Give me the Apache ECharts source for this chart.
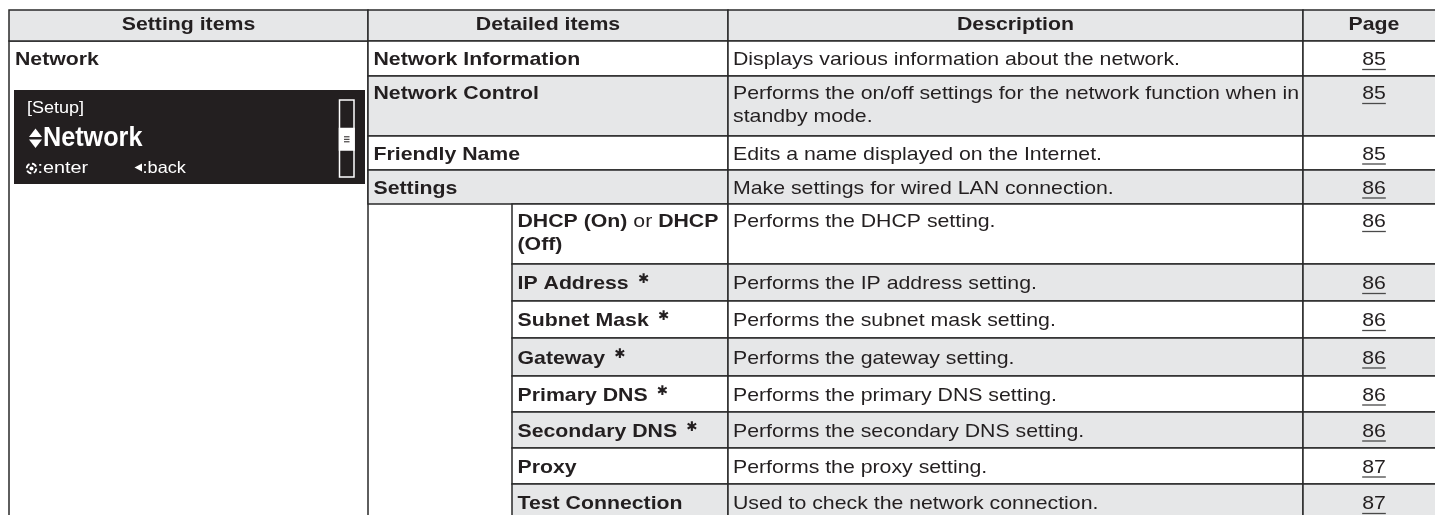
<!DOCTYPE html>
<html>
<head>
<meta charset="utf-8">
<script src="https://cdn.jsdelivr.net/npm/echarts@6/dist/echarts.min.js"></script>
<style>
html,body{margin:0;padding:0;background:#ffffff;}
#chart{width:1435px;height:515px;}
</style>
</head>
<body>
<div id="chart"></div>
<script>
// ---------------- data ----------------
const headers = ['Setting items', 'Detailed items', 'Description', 'Page'];
const sectionName = 'Network';
const detailItems = ['Network Information', 'Network Control', 'Friendly Name', 'Settings',
  'DHCP (On) or DHCP (Off)', 'IP Address', 'Subnet Mask', 'Gateway', 'Primary DNS',
  'Secondary DNS', 'Proxy', 'Test Connection'];
const itemLevels = [1, 1, 1, 1, 2, 2, 2, 2, 2, 2, 2, 2];
const footnoted = [false, false, false, false, false, true, true, true, true, true, false, false];
const descriptions = [
  'Displays various information about the network.',
  'Performs the on/off settings for the network function when in standby mode.',
  'Edits a name displayed on the Internet.',
  'Make settings for wired LAN connection.',
  'Performs the DHCP setting.',
  'Performs the IP address setting.',
  'Performs the subnet mask setting.',
  'Performs the gateway setting.',
  'Performs the primary DNS setting.',
  'Performs the secondary DNS setting.',
  'Performs the proxy setting.',
  'Used to check the network connection.'
];
const pages = ['85', '85', '85', '86', '86', '86', '86', '86', '86', '86', '87', '87'];
const screenTitle = '[Setup]';
const screenItem = 'Network';
const screenEnter = ':enter';
const screenBack = ':back';
const regularWords = ['or'];

// ---------------- layout / style ----------------
const COL = { left: 9, detail: 368, sub: 512, desc: 728, page: 1303, right: 1445 };
const HEADER_TOP = 10, HEADER_BOTTOM = 41;
const rowHeights = [35, 60, 34, 34, 60, 37, 37, 38, 36, 36, 36, 37];
const rowTops = [];
(function () { let y = HEADER_BOTTOM; rowHeights.forEach(h => { rowTops.push(y); y += h; }); })();

const SX = 1.15;
const FONT = '"Liberation Sans", Arial, Helvetica, sans-serif';
const FS = 18.5, LH = 22.5;
const INK = '#231f20', LINE = '#2a2a2a', GRAY = '#e6e7e8', LCD = '#231f20';
const PAD = 5.5;

const ctx = document.createElement('canvas').getContext('2d');
function tw(str, weight, size) {
  ctx.font = weight + ' ' + size + 'px ' + FONT;
  return ctx.measureText(str).width;
}
function tokens(str) {
  return str.split(' ').map(w => ({ text: w, bold: regularWords.indexOf(w) < 0 }));
}
function wrapTokens(toks, maxW) {
  const lines = []; let cur = []; let w = 0;
  const sp = tw(' ', 'bold', FS);
  toks.forEach(t => {
    const tw0 = tw(t.text, t.bold ? 'bold' : 'normal', FS);
    const add = cur.length ? sp + tw0 : tw0;
    if (cur.length && w + add > maxW) { lines.push(cur); cur = [t]; w = tw0; }
    else { cur.push(t); w += add; }
  });
  if (cur.length) lines.push(cur);
  return lines;
}
function wrapPlain(str, maxW, weight) {
  const words = str.split(' '); const lines = []; let cur = '';
  words.forEach(wd => {
    const cand = cur ? cur + ' ' + wd : wd;
    if (cur && tw(cand, weight, FS) > maxW) { lines.push(cur); cur = wd; }
    else cur = cand;
  });
  if (cur) lines.push(cur);
  return lines;
}

function P(api, x, y) { return api.coord([x, y]); }
function cellRect(api, x0, y0, x1, y1, fill) {
  const a = P(api, x0, y0), b = P(api, x1, y1);
  return { type: 'rect', shape: { x: a[0], y: a[1], width: b[0] - a[0], height: b[1] - a[1] },
    style: { fill: fill, stroke: LINE, lineWidth: 1.5 } };
}
function textEl(api, x, y, text, o) {
  o = o || {};
  const p = P(api, x, y);
  return { type: 'text', x: p[0], y: p[1], scaleX: o.scaleX == null ? SX : o.scaleX,
    style: { text: text, fill: o.fill || INK, fontFamily: o.family || FONT, fontSize: o.size || FS,
      fontWeight: o.weight || 'normal', align: o.align || 'left', verticalAlign: o.va || 'middle',
      lineHeight: o.lh || LH, rich: o.rich } };
}

// ---------------- renderers ----------------
function renderSection(params, api) {
  const kids = [];
  kids.push(cellRect(api, COL.left, HEADER_BOTTOM, COL.detail, 540, '#ffffff'));
  kids.push(textEl(api, COL.left + 6, HEADER_BOTTOM + 18.5, sectionName, { weight: 'bold' }));
  // LCD screen
  const a = P(api, 14, 90), b = P(api, 365, 184);
  kids.push({ type: 'rect', shape: { x: a[0], y: a[1], width: b[0] - a[0], height: b[1] - a[1] }, style: { fill: LCD } });
  kids.push(textEl(api, 27, 108.5, screenTitle, { fill: '#fff', size: 17, scaleX: 1.06 }));
  kids.push(textEl(api, 43, 138.5, screenItem, { fill: '#fff', size: 28, weight: 'bold', scaleX: 0.9 }));
  const tri = (pts) => ({ type: 'polygon', shape: { points: pts.map(q => P(api, q[0], q[1])) }, style: { fill: '#fff' } });
  kids.push(tri([[29, 137], [42, 137], [35.5, 128.5]]));
  kids.push(tri([[29, 139.5], [42, 139.5], [35.5, 148]]));
  // enter icon
  const c = P(api, 31.5, 168.5);
  kids.push({ type: 'circle', shape: { cx: c[0], cy: c[1], r: 4.8 }, style: { fill: 'none', stroke: '#fff', lineWidth: 1.8, lineDash: [5, 2.5] } });
  kids.push({ type: 'circle', shape: { cx: c[0], cy: c[1], r: 2 }, style: { fill: '#fff' } });
  kids.push(textEl(api, 37.5, 168.5, screenEnter, { fill: '#fff', size: 16.5, scaleX: 1.2 }));
  kids.push(tri([[134.5, 167.5], [142, 163.5], [142, 171.5]]));
  kids.push(textEl(api, 142.5, 168.5, screenBack, { fill: '#fff', size: 16.5, scaleX: 1.1 }));
  // scrollbar
  const s0 = P(api, 339.5, 100), s1 = P(api, 354, 177);
  kids.push({ type: 'rect', shape: { x: s0[0], y: s0[1], width: s1[0] - s0[0], height: s1[1] - s0[1] }, style: { fill: LCD, stroke: '#fff', lineWidth: 1.5 } });
  const t0 = P(api, 339.5, 128.5), t1 = P(api, 354, 150);
  kids.push({ type: 'rect', shape: { x: t0[0], y: t0[1], width: t1[0] - t0[0], height: t1[1] - t0[1] }, style: { fill: '#fff', stroke: '#fff', lineWidth: 1.5 } });
  [-2.5, 0, 2.5].forEach(d => {
    const l0 = P(api, 344, 139.3 + d), l1 = P(api, 349.5, 139.3 + d);
    kids.push({ type: 'line', shape: { x1: l0[0], y1: l0[1], x2: l1[0], y2: l1[1] }, style: { stroke: LCD, lineWidth: 1 } });
  });
  return { type: 'group', children: kids };
}

const headerEdges = [[COL.left, COL.detail], [COL.detail, COL.desc], [COL.desc, COL.page], [COL.page, COL.right]];
function renderHeader(params, api) {
  const i = params.dataIndex;
  const e = headerEdges[i];
  return { type: 'group', children: [
    cellRect(api, e[0], HEADER_TOP, e[1], HEADER_BOTTOM, GRAY),
    textEl(api, (e[0] + e[1]) / 2, 24.5, headers[i], { weight: 'bold', align: 'center' })
  ] };
}

function renderRow(params, api) {
  const i = params.dataIndex;
  const top = rowTops[i], h = rowHeights[i], bottom = top + h;
  const fill = i % 2 ? GRAY : '#ffffff';
  const itemX = itemLevels[i] === 1 ? COL.detail : COL.sub;
  const kids = [
    cellRect(api, itemX, top, COL.desc, bottom, fill),
    cellRect(api, COL.desc, top, COL.page, bottom, fill),
    cellRect(api, COL.page, top, COL.right, bottom, fill)
  ];
  const itemLines = wrapTokens(tokens(detailItems[i]), (COL.desc - itemX - 2 * PAD) / SX);
  const descLines = wrapPlain(descriptions[i], (COL.page - COL.desc - 6) / SX, 'normal');
  const n = Math.max(itemLines.length, descLines.length);
  const cy = n > 1 ? top + 18 : top + h / 2 + 1.5;
  const rich = {
    b: { fontWeight: 'bold', fontSize: FS, fontFamily: FONT, fill: INK, lineHeight: LH },
    r: { fontWeight: 'normal', fontSize: FS, fontFamily: FONT, fill: INK, lineHeight: LH }
  };
  const richStr = itemLines.map(l => l.map(t => '{' + (t.bold ? 'b' : 'r') + '|' + t.text + '}').join(' ')).join('\n');
  kids.push(textEl(api, itemX + PAD, cy - LH / 2, richStr, { weight: 'bold', va: 'top', rich: rich }));
  if (footnoted[i]) {
    const w = tw(detailItems[i], 'bold', FS) * SX;
    kids.push(textEl(api, itemX + PAD + w + 9, cy - 4.5, '\u2731', { family: '"DejaVu Sans", sans-serif', size: 13.5, scaleX: 1, weight: 'bold' }));
  }
  kids.push(textEl(api, COL.desc + 5, cy - LH / 2, descLines.join('\n'), { va: 'top' }));
  const pcx = (COL.page + COL.right) / 2;
  kids.push(textEl(api, pcx, cy, pages[i], { align: 'center' }));
  const pw = tw(pages[i], 'normal', FS) * SX;
  const u0 = P(api, pcx - pw / 2, cy + 9.5), u1 = P(api, pcx + pw / 2, cy + 9.5);
  kids.push({ type: 'line', shape: { x1: u0[0], y1: u0[1], x2: u1[0], y2: u1[1] }, style: { stroke: '#4a4a4a', lineWidth: 1.3 } });
  return { type: 'group', children: kids };
}

// ---------------- chart ----------------
const chart = echarts.init(document.getElementById('chart'), null, { renderer: 'canvas' });
chart.setOption({
  animation: false,
  backgroundColor: '#ffffff',
  grid: { left: 0, right: 0, top: 0, bottom: 0 },
  xAxis: { type: 'value', min: 0, max: 1435, show: false },
  yAxis: { type: 'value', min: 0, max: 515, inverse: true, show: false },
  series: [
    { type: 'custom', name: 'section', silent: true, clip: false, renderItem: renderSection, data: [[0, 0]] },
    { type: 'custom', name: 'header', silent: true, clip: false, renderItem: renderHeader, data: headers.map((h, i) => [i, 0]) },
    { type: 'custom', name: 'rows', silent: true, clip: false, renderItem: renderRow, data: detailItems.map((d, i) => [i, 0]) }
  ]
});
</script>
</body>
</html>
